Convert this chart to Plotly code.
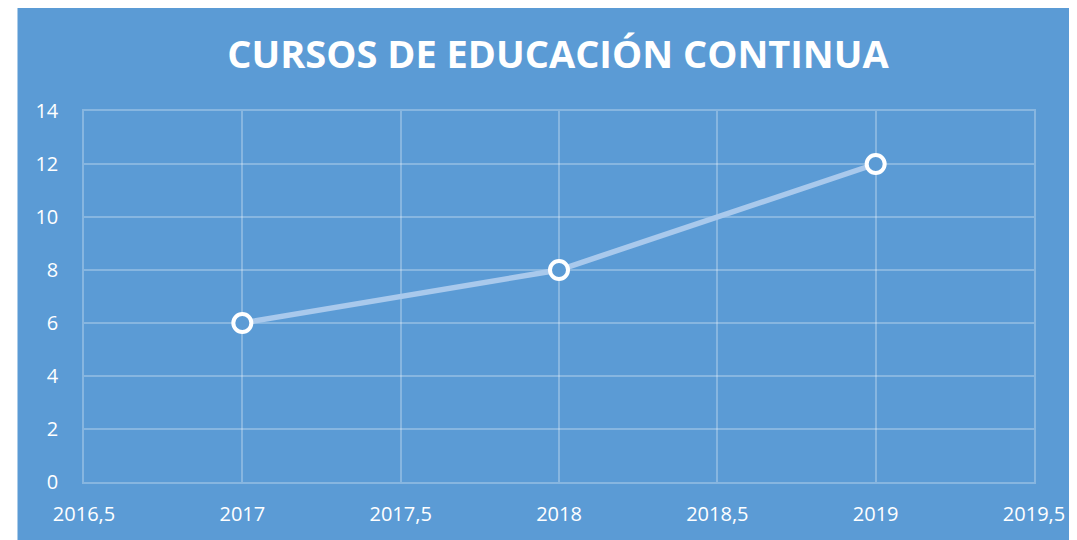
import plotly.graph_objects as go

years = [2017, 2018, 2019]
cursos = [6, 8, 12]
x_tickvals = [2016.5, 2017, 2017.5, 2018, 2018.5, 2019, 2019.5]
x_ticktext = ["2016,5", "2017", "2017,5", "2018", "2018,5", "2019", "2019,5"]
y_tickvals = [0, 2, 4, 6, 8, 10, 12, 14]
title_text = "CURSOS DE EDUCACIÓN CONTINUA"

BLUE = "#5B9BD5"
GRID = "rgba(255,255,255,0.27)"
FONT = "Open Sans"

fig = go.Figure()
fig.add_trace(go.Scatter(
    x=years, y=cursos, mode="lines+markers",
    line=dict(color="#A9C9EC", width=5.5),
    marker=dict(size=18, color=BLUE, line=dict(color="white", width=4)),
    showlegend=False,
))

# figure is placed at an 8px body offset in the page
L, R, T, B = 76, 36, 103, 58
W, H = 1069, 532
pw, ph = W - L - R, H - T - B
# white strip on the left of the outer frame
fig.add_shape(type="rect", xref="paper", yref="paper",
              x0=(0 - L) / pw - 0.01, x1=(9 - L) / pw,
              y0=-(B + 5) / ph, y1=(ph + T + 5) / ph,
              fillcolor="white", line_width=0, layer="above")

fig.update_layout(
    width=W, height=H,
    margin=dict(l=L, r=R, t=T, b=B),
    paper_bgcolor=BLUE, plot_bgcolor=BLUE,
    font=dict(family=FONT, color="white", size=20),
    title=dict(text="<b>" + title_text + "</b>", x=550 / W, xanchor="center",
               y=1 - 46.5 / H, yanchor="middle",
               font=dict(family=FONT, size=38, color="white")),
    xaxis=dict(range=[2016.5, 2019.5], tickvals=x_tickvals, ticktext=x_ticktext,
               showgrid=True, gridcolor=GRID, gridwidth=1.5, zeroline=False,
               showline=True, linecolor=GRID, linewidth=1.5, mirror=True,
               ticks="", ticklabelstandoff=13, tickfont=dict(size=20)),
    yaxis=dict(range=[0, 14], tickvals=y_tickvals,
               showgrid=True, gridcolor=GRID, gridwidth=1.5, zeroline=False,
               showline=True, linecolor=GRID, linewidth=1.5, mirror=True,
               ticks="", ticklabelstandoff=20, tickfont=dict(size=20)),
)

fig.write_html("out.html")
